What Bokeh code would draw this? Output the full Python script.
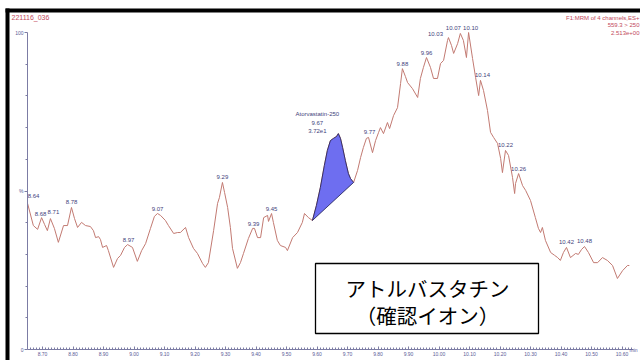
from bokeh.plotting import figure
from bokeh.models import (Range1d, Label, BoxAnnotation, FixedTicker,
                          ColumnDataSource, NumeralTickFormatter)
from bokeh.embed import file_html
from bokeh.resources import INLINE
from bokeh.core.properties import value

# ---------------- data (retention time in min, relative intensity %) ----------------
times = [8.651, 8.670, 8.684, 8.697, 8.707, 8.716, 8.726, 8.739, 8.752, 8.769, 8.782, 8.795,
         8.805, 8.815, 8.828, 8.841, 8.857, 8.867, 8.874, 8.884, 8.890, 8.897, 8.910, 8.916,
         8.933, 8.946, 8.956, 8.969, 8.979, 8.995, 9.011, 9.025, 9.038, 9.054, 9.067, 9.077,
         9.087, 9.103, 9.113, 9.130, 9.143, 9.152, 9.169, 9.179, 9.195, 9.208, 9.225, 9.234,
         9.244, 9.261, 9.274, 9.280, 9.290, 9.297, 9.307, 9.316, 9.323, 9.339, 9.349, 9.359,
         9.375, 9.389, 9.395, 9.405, 9.415, 9.425, 9.438, 9.441, 9.451, 9.457, 9.470, 9.480,
         9.497, 9.503, 9.520, 9.536, 9.552, 9.559, 9.572, 9.585, 9.598, 9.611, 9.624, 9.634,
         9.644, 9.654, 9.664, 9.670, 9.677, 9.684, 9.693, 9.703, 9.710, 9.720, 9.733, 9.743,
         9.752, 9.762, 9.769, 9.782, 9.792, 9.802, 9.808, 9.818, 9.831, 9.838, 9.851, 9.864,
         9.874, 9.880, 9.890, 9.897, 9.913, 9.930, 9.939, 9.949, 9.959, 9.972, 9.982, 9.995,
         10.005, 10.015, 10.028, 10.031, 10.041, 10.048, 10.061, 10.070, 10.080, 10.090, 10.097, 10.110,
         10.120, 10.130, 10.136, 10.146, 10.159, 10.169, 10.179, 10.192, 10.202, 10.208, 10.218, 10.228,
         10.241, 10.248, 10.251, 10.261, 10.274, 10.284, 10.300, 10.316, 10.326, 10.333, 10.339, 10.349,
         10.366, 10.379, 10.389, 10.398, 10.408, 10.418, 10.431, 10.448, 10.457, 10.467, 10.477, 10.490,
         10.507, 10.520, 10.536, 10.552, 10.569, 10.585, 10.602, 10.618, 10.624]
inten = [46.1, 39.1, 37.9, 41.6, 39.4, 37.5, 41.3, 38.2, 33.8, 39.1, 39.1, 44.8,
         41.3, 38.5, 40.1, 39.1, 38.8, 37.5, 35.3, 35.6, 34.7, 32.2, 32.8, 31.2,
         25.9, 28.7, 29.7, 32.2, 33.1, 32.2, 27.8, 31.2, 33.4, 38.2, 42.0, 42.9,
         42.3, 40.7, 39.1, 36.6, 36.9, 36.9, 38.5, 35.3, 31.9, 30.3, 27.1, 25.9,
         27.4, 37.5, 46.1, 47.9, 52.7, 49.5, 44.8, 38.5, 31.9, 25.6, 27.4, 30.3,
         35.0, 38.2, 38.2, 35.3, 35.3, 41.6, 42.3, 40.4, 42.9, 40.1, 34.4, 32.8,
         32.2, 31.2, 35.3, 36.9, 40.1, 42.9, 41.6, 40.7, 45.4, 51.1, 58.0, 62.8,
         65.9, 66.6, 67.2, 68.1, 66.6, 63.7, 59.6, 55.5, 53.9, 52.7, 56.5, 60.6,
         63.7, 66.6, 66.9, 62.1, 65.9, 68.5, 70.0, 68.1, 71.6, 69.7, 73.8, 76.3,
         83.9, 88.6, 86.1, 84.2, 82.3, 79.5, 85.5, 89.0, 92.1, 89.0, 85.5, 85.5,
         90.2, 91.2, 97.5, 98.4, 95.9, 93.4, 96.5, 99.7, 97.5, 92.1, 100.0, 91.8,
         85.8, 80.1, 84.9, 81.7, 75.4, 68.5, 66.9, 65.0, 60.3, 55.8, 62.8, 61.2,
         54.3, 49.2, 52.4, 55.5, 51.7, 50.2, 47.0, 41.6, 38.2, 36.9, 38.5, 34.4,
         30.6, 29.7, 29.0, 28.1, 30.6, 32.2, 29.0, 30.3, 30.0, 31.5, 32.5, 30.6,
         27.4, 27.4, 29.0, 28.1, 26.5, 22.4, 24.9, 26.5, 26.5]

# integrated peak (Atorvastatin-250): index range in the trace
integ_first, integ_last = 79, 93

# peak labels and the trace point each one marks
peak_text = ["8.64", "8.68", "8.71", "8.78", "8.97", "9.07", "9.29", "9.39", "9.45", "9.77",
             "9.88", "9.96", "10.03", "10.07", "10.10", "10.14", "10.22", "10.26", "10.42", "10.48"]
peak_idx = [0, 3, 6, 11, 28, 35, 52, 62, 68, 98, 109, 116, 123, 127, 130, 134, 142, 147, 161, 166]
# label offsets in pixels (style)
peak_dx = [6, -1, 3, 0, 1, 0, 0, -1, 0, 1, 0, 0, -13, -7, 2, 2, 0, 0, 0, 0]
peak_dy = [-5, -2, -5, -3, -3, -3, -3, -2, -3, -3, -3, -3, -2, -3, -3, -3, -3, -3, -3, -3]

integ_text = ["Atorvastatin-250", "9.67", "3.72e1"]
integ_idx = 87

x_tick_vals = [8.70, 8.80, 8.90, 9.00, 9.10, 9.20, 9.30, 9.40, 9.50, 9.60,
               9.70, 9.80, 9.90, 10.00, 10.10, 10.20, 10.30, 10.40, 10.50, 10.60]
y_tick_vals = [0, 50, 100]
y_tick_text = ["0", "%", "100"]

header_left = "221116_036"
header_right = ["F1:MRM of 4 channels,ES+", "559.3 > 250", "2.513e+00"]
box_text = ["アトルバスタチン", "（確認イオン）"]

# ---------------- layout calibration (page pixels -> data) ----------------
def tx(cx):
    return 8.70 + (cx - 42) / 305.0
def py(cy):
    return (349 - cy) / 3.17

LINE_C = "#c27a72"
LAB_C = "#3f3f7c"
AX_C = "#7c7ca4"
TICK_C = "#5a5a96"
HEAD_C = "#c24a5c"
FONT = "Liberation Sans"

p = figure(width=640, height=360,
           x_range=Range1d(tx(0), tx(640)), y_range=Range1d(py(360), py(0)),
           output_backend="svg", toolbar_location=None,
           min_border=0, min_border_left=0, min_border_right=0,
           min_border_top=0, min_border_bottom=0)
p.grid.visible = False
p.outline_line_color = None

# axes, pinned at the trace's origin
xa = p.xaxis[0]
xa.fixed_location = 0
xa.ticker = FixedTicker(ticks=x_tick_vals,
                        minor_ticks=[round(8.66 + 0.01 * i, 2) for i in range(198)])
xa.formatter = NumeralTickFormatter(format="0.00")
xa.bounds = (tx(27), tx(633))
xa.axis_line_color = AX_C
xa.major_tick_line_color = AX_C
xa.minor_tick_line_color = AX_C
xa.major_tick_in = 3
xa.major_tick_out = 0
xa.minor_tick_in = 2
xa.minor_tick_out = 0
xa.major_label_standoff = 2
xa.major_label_text_font = FONT
xa.major_label_text_font_size = "5px"
xa.major_label_text_color = TICK_C

ya = p.yaxis[0]
ya.fixed_location = tx(27)
ya.ticker = FixedTicker(ticks=y_tick_vals, minor_ticks=[10, 20, 30, 40, 60, 70, 80, 90])
ya.major_label_overrides = dict(zip(y_tick_vals, y_tick_text))
ya.bounds = (0, 100)
ya.axis_line_color = AX_C
ya.major_tick_line_color = AX_C
ya.minor_tick_line_color = AX_C
ya.major_tick_in = 0
ya.major_tick_out = 3
ya.minor_tick_in = 0
ya.minor_tick_out = 2
ya.major_label_standoff = 1
ya.major_label_text_font = FONT
ya.major_label_text_font_size = "5px"
ya.major_label_text_color = TICK_C

# trace
p.line(times, inten, line_color=LINE_C, line_width=1)

# integrated peak
p.patch(times[integ_first:integ_last + 1], inten[integ_first:integ_last + 1],
        fill_color="#6e6ef0", fill_alpha=1, line_color="#1e1e50", line_width=0.8)

# peak labels
src = ColumnDataSource(dict(
    x=[times[i] for i in peak_idx], y=[inten[i] for i in peak_idx],
    text=peak_text, dx=peak_dx, dy=peak_dy))
p.text(x="x", y="y", text="text", x_offset="dx", y_offset="dy", source=src,
       text_font=value(FONT), text_font_size="6px", text_color=LAB_C,
       text_align="center", text_baseline="bottom")

isrc = ColumnDataSource(dict(
    x=[times[integ_idx]] * 3, y=[inten[integ_idx]] * 3, text=integ_text,
    dx=[-21, -21, -21], dy=[-17, -9, -1]))
p.text(x="x", y="y", text="text", x_offset="dx", y_offset="dy", source=isrc,
       text_font=value(FONT), text_font_size="6px", text_color=LAB_C,
       text_align="center", text_baseline="bottom")

# "min" at the end of the time axis
p.add_layout(Label(x=tx(629), y=0, text="min", text_font=FONT, text_font_size="5px",
                   text_color=TICK_C, text_align="left", text_baseline="middle"))

# header texts
p.add_layout(Label(x=tx(11), y=py(17), text=header_left, text_font=FONT,
                   text_font_size="7px", text_color=HEAD_C, text_align="left",
                   text_baseline="middle"))
for k, s in enumerate(header_right):
    p.add_layout(Label(x=tx(639), y=py(17 + 7.5 * k), text=s, text_font=FONT,
                       text_font_size="6px", text_color=HEAD_C, text_align="right",
                       text_baseline="middle"))

# boxed caption
p.add_layout(BoxAnnotation(left=tx(315), right=tx(538), top=py(263), bottom=py(333),
                           fill_color="white", fill_alpha=1, line_color="black",
                           line_width=1.3, line_alpha=1))
p.add_layout(Label(x=tx(427), y=py(287), text=box_text[0], text_font="Noto Sans CJK JP",
                   text_font_size="20.5px", text_color="black", text_align="center",
                   text_baseline="middle"))
p.add_layout(Label(x=tx(427), y=py(314), text=box_text[1], text_font="Noto Sans CJK JP",
                   text_font_size="20.5px", text_color="black", text_align="center",
                   text_baseline="middle"))

# black screenshot frame (top and left bands)
p.add_layout(BoxAnnotation(left=tx(5), right=tx(640), top=py(8), bottom=py(12),
                           fill_color="black", fill_alpha=1, line_alpha=0))
p.add_layout(BoxAnnotation(left=tx(5), right=tx(9), top=py(8), bottom=py(360),
                           fill_color="black", fill_alpha=1, line_alpha=0))

open("out.html", "w").write(file_html(p, INLINE))
